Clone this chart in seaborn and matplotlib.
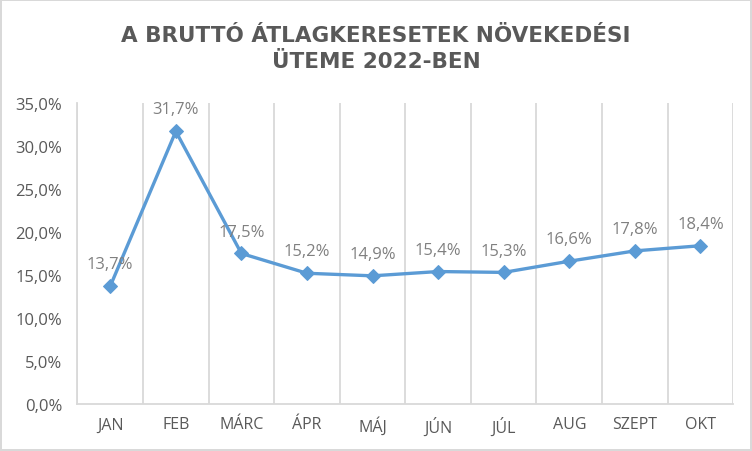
import numpy as np
import pandas as pd
import seaborn as sns
import matplotlib.pyplot as plt
import matplotlib.ticker as ticker

# Data
months = ["JAN", "FEB", "MÁRC", "ÁPR", "MÁJ", "JÚN", "JÚL", "AUG", "SZEPT", "OKT"]
growth = [13.7, 31.7, 17.5, 15.2, 14.9, 15.4, 15.3, 16.6, 17.8, 18.4]
title = "A BRUTTÓ ÁTLAGKERESETEK NÖVEKEDÉSI\nÜTEME 2022-BEN"

line_color = "#5B9BD5"
text_color = "#595959"
grid_color = "#D9D9D9"

sns.set_style("white")
plt.rcParams['font.family'] = ['Open Sans', 'DejaVu Sans']

df = pd.DataFrame({"month": months, "growth": growth})

fig = plt.figure(figsize=(7.52, 4.52), dpi=100)
fig.patch.set_edgecolor(grid_color)
fig.patch.set_linewidth(1.5)
ax = fig.add_axes([0.103, 0.104, 0.872, 0.666])

sns.lineplot(data=df, x="month", y="growth", sort=False, color=line_color,
             lw=2.4, marker="D", markersize=7.5, markeredgecolor=line_color, ax=ax)

# data labels
for i, v in enumerate(growth):
    ax.annotate(f"{v:.1f}%".replace(".", ","), (i, v), xytext=(0, 10),
                textcoords="offset points", ha="center", va="bottom",
                fontsize=12, color="#808080")

ax.set_xlim(-0.5, len(months) - 0.5)
ax.set_ylim(0, 35)
ax.yaxis.set_major_locator(ticker.MultipleLocator(5))
ax.yaxis.set_major_formatter(ticker.FuncFormatter(lambda y, p: f"{y:.1f}%".replace(".", ",")))

# vertical gridlines between categories
ax.xaxis.set_minor_locator(ticker.FixedLocator(np.arange(-0.5, len(months), 1)))
ax.grid(which="minor", axis="x", color=grid_color, lw=1.3)
ax.grid(which="major", visible=False)

ax.set_xlabel("")
ax.set_ylabel("")
ax.tick_params(axis="both", which="both", length=0, colors=text_color)
ax.tick_params(axis="y", labelsize=12, pad=11)
ax.tick_params(axis="x", labelsize=11.5, pad=9)

for side in ["top", "right"]:
    ax.spines[side].set_visible(False)
for side in ["left", "bottom"]:
    ax.spines[side].set_color(grid_color)
    ax.spines[side].set_linewidth(1.3)

fig.text(0.5, 0.892, title, ha="center", va="center", fontsize=15.5, fontweight="bold",
         family=["DejaVu Sans"], color=text_color, linespacing=1.35)

plt.savefig("out.png", dpi=100)
